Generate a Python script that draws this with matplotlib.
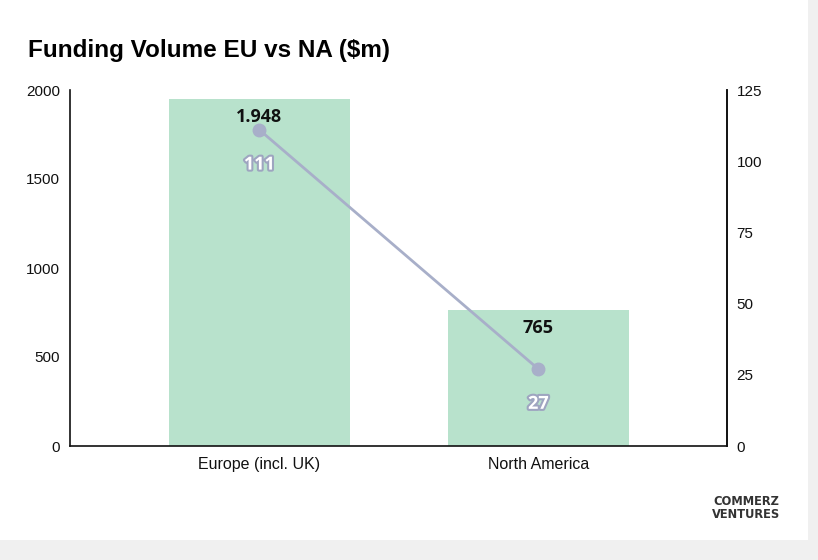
import matplotlib
matplotlib.use("Agg")
import matplotlib.pyplot as plt
import matplotlib.patheffects as pe
from matplotlib.patches import Rectangle

categories = ["Europe (incl. UK)", "North America"]
volume = [1948, 765]
volume_labels = ["1.948", "765"]
deals = [111, 27]
left_ticks = [0, 500, 1000, 1500, 2000]
right_ticks = [0, 25, 50, 75, 100, 125]

bar_color = "#b8e2cc"
line_color = "#a8afc9"

fig = plt.figure(figsize=(8.18, 5.60), dpi=100)
fig.patch.set_facecolor("#f0f0f0")
card = Rectangle((0, 1 - 540 / 560), 808 / 818, 540 / 560,
                 transform=fig.transFigure, facecolor="white",
                 edgecolor="none", zorder=-10)
fig.patches.append(card)

ax = fig.add_axes([70 / 818, 1 - 446 / 560, 657 / 818, 356 / 560])
ax.set_facecolor("none")
x = list(range(len(categories)))
ax.bar(x, volume, width=0.65, color=bar_color, zorder=1)
ax.set_xlim(-0.679, 1.676)
ax.set_ylim(0, 2000)
ax.set_yticks(left_ticks)
ax.set_xticks(x)
ax.set_xticklabels(categories)
ax.spines["top"].set_visible(False)
for s in ["left", "bottom", "right"]:
    ax.spines[s].set_linewidth(1.2)
    ax.spines[s].set_color("#111111")
ax.tick_params(axis="both", length=0, labelsize=11, colors="#111111")
ax.tick_params(axis="y", pad=7)
ax.tick_params(axis="x", pad=8)
for lbl in ax.get_yticklabels() + ax.get_xticklabels():
    lbl.set_fontfamily("Liberation Sans")
for lbl in ax.get_xticklabels():
    lbl.set_fontsize(11.5)

for xi, v, t in zip(x, volume, volume_labels):
    ax.annotate(t, (xi, v), xytext=(0, -13), textcoords="offset points",
                ha="center", va="center", fontsize=13, fontweight="bold",
                family="Open Sans", color="#111111", zorder=5)

ax2 = ax.twinx()
ax2.set_ylim(0, 125)
ax2.set_yticks(right_ticks)
ax2.spines["top"].set_visible(False)
ax2.spines["left"].set_visible(False)
ax2.spines["bottom"].set_visible(False)
ax2.spines["right"].set_linewidth(1.2)
ax2.spines["right"].set_color("#111111")
ax2.tick_params(axis="y", length=0, labelsize=11, colors="#111111", pad=7)
for lbl in ax2.get_yticklabels():
    lbl.set_fontfamily("Liberation Sans")
ax2.plot(x, deals, color=line_color, linewidth=2, marker="o", markersize=9,
         zorder=3)
for xi, d in zip(x, deals):
    ax2.annotate(str(d), (xi, d), xytext=(0, -25), textcoords="offset points",
                 ha="center", va="center", fontsize=13, fontweight="bold",
                 family="Open Sans", color="white", zorder=6,
                 path_effects=[pe.withStroke(linewidth=3, foreground="#9ea5c0")])

fig.text(28 / 818, 1 - 50 / 560, "Funding Volume EU vs NA ($m)",
         fontsize=17.5, fontweight="bold", family="Liberation Sans",
         ha="left", va="center", color="#000000")

fig.text(746 / 818, 1 - 508 / 560, "COMMERZ\nVENTURES", fontsize=8.3,
         fontweight="bold", family="DejaVu Sans", ha="center", va="center",
         color="#333333", linespacing=0.95)

fig.savefig("out.png", dpi=100, facecolor=fig.get_facecolor())
